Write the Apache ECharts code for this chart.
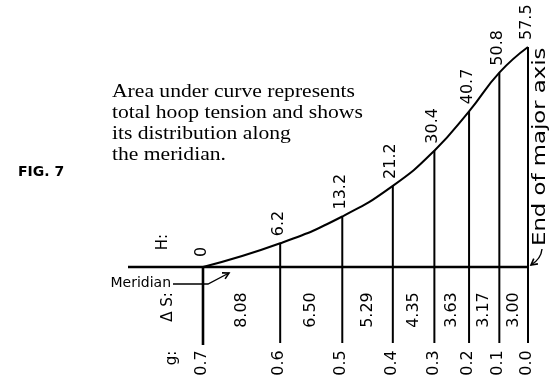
<!DOCTYPE html>
<html>
<head>
<meta charset="utf-8">
<script src="https://cdn.jsdelivr.net/npm/echarts@6/dist/echarts.min.js"></script>
<style>
  html, body { margin: 0; padding: 0; background: #fff; }
  #chart { width: 549px; height: 377px; }
</style>
</head>
<body>
<div id="chart"></div>
<script>
// Stations along the meridian, from g = 0.7 to the end of the major axis
const gLabels = ['0.7', '0.6', '0.5', '0.4', '0.3', '0.2', '0.1', '0.0'];
// Arc length between consecutive stations
const deltaS = [8.08, 6.50, 5.29, 4.35, 3.63, 3.17, 3.00];
// Hoop tension H at each station
const hoop = [0, 6.2, 13.2, 21.2, 30.4, 40.7, 50.8, 57.5];
const hoopLabels = ['0', '6.2', '13.2', '21.2', '30.4', '40.7', '50.8', '57.5'];

// Station positions along the meridian = running sum of the arc lengths
const sPos = [0];
deltaS.forEach((d, i) => sPos.push(+(sPos[i] + d).toFixed(2)));
const sEnd = sPos[sPos.length - 1];

// Axis extents (layout): baseline runs left of the first station,
// station lines drop below the baseline
const X_MIN = -7.85;
const Y_MIN = -19.86;

const NUM_FONT = '16px "DejaVu Sans"';
const BLACK = '#000';

const chart = echarts.init(document.getElementById('chart'), null, { renderer: 'canvas' });

const stationData = hoop.map((h, i) => [sPos[i], h, i]);
const intervalData = deltaS.map((d, i) => [(sPos[i] + sPos[i + 1]) / 2, 0, i]);

function rotText(x, y, text, align, font) {
  return {
    type: 'text', x: x, y: y, rotation: Math.PI / 2,
    style: {
      text: text, font: font || NUM_FONT, fill: BLACK,
      align: align, verticalAlign: 'middle',
      textAlign: align, textVerticalAlign: 'middle'
    }
  };
}

chart.setOption({
  animation: false,
  backgroundColor: '#fff',
  grid: { left: 128, right: 21, top: 47, bottom: 34 },
  xAxis: {
    type: 'value', min: X_MIN, max: sEnd,
    axisLine: { show: false }, axisTick: { show: false },
    axisLabel: { show: false }, splitLine: { show: false }
  },
  yAxis: {
    type: 'value', min: Y_MIN, max: hoop[hoop.length - 1],
    axisLine: { show: false }, axisTick: { show: false },
    axisLabel: { show: false }, splitLine: { show: false }
  },
  series: [
    {
      // meridian baseline
      type: 'line',
      data: [[X_MIN, 0], [sEnd, 0]],
      symbol: 'none',
      lineStyle: { color: BLACK, width: 2.6 },
      z: 3
    },
    {
      // hoop tension curve
      type: 'line',
      data: hoop.map((h, i) => [sPos[i], h]),
      smooth: 0.5,
      symbol: 'none',
      lineStyle: { color: BLACK, width: 2 },
      z: 4
    },
    {
      // station lines with H and g labels
      type: 'custom',
      data: stationData,
      clip: false,
      z: 2,
      renderItem: function (params, api) {
        const i = api.value(2);
        const top = api.coord([api.value(0), api.value(1)]);
        const bot = api.coord([api.value(0), Y_MIN]);
        const base = api.coord([api.value(0), 0]);
        const gap = i === 0 ? 10 : 7;
        return {
          type: 'group',
          children: [
            {
              type: 'line',
              shape: { x1: top[0], y1: top[1], x2: bot[0], y2: bot[1] + (i === 0 ? 2 : 0) },
              style: { stroke: BLACK, lineWidth: i === 0 ? 2.6 : 2 }
            },
            rotText(top[0] - 1.5, top[1] - gap, hoopLabels[i], 'left'),
            rotText(base[0] - 1, base[1] + 96, gLabels[i], 'center')
          ]
        };
      }
    },
    {
      // arc length between stations
      type: 'custom',
      data: intervalData,
      clip: false,
      z: 2,
      renderItem: function (params, api) {
        const i = api.value(2);
        const p = api.coord([api.value(0), 0]);
        return rotText(p[0], p[1] + 43, deltaS[i].toFixed(2), 'center');
      }
    }
  ]
});

// Annotations
function arrowHead(tx, ty, ang, len) {
  const a1 = ang + Math.PI - 0.5, a2 = ang + Math.PI + 0.5;
  return {
    type: 'polyline',
    shape: { points: [
      [tx + len * Math.cos(a1), ty + len * Math.sin(a1)],
      [tx, ty],
      [tx + len * Math.cos(a2), ty + len * Math.sin(a2)]
    ] },
    style: { stroke: BLACK, lineWidth: 1.6, fill: null }
  };
}

const endPt = chart.convertToPixel({ gridIndex: 0 }, [sEnd, 0]);
const startPt = chart.convertToPixel({ gridIndex: 0 }, [0, 0]);

const paraFont = '18px "Liberation Serif"';
const para = [
  'Area under curve represents',
  'total hoop tension and shows',
  'its distribution along',
  'the meridian.'
];

const graphics = [
  {
    type: 'text', x: 18, y: 172,
    style: { text: 'FIG. 7', font: 'bold 14px "DejaVu Sans"', fill: BLACK,
      align: 'left', verticalAlign: 'middle', textAlign: 'left', textVerticalAlign: 'middle' }
  },
  rotText(163, 242, 'H:', 'center', '15px "DejaVu Sans"'),
  rotText(168, 307, '\u0394 S:', 'center', '15px "DejaVu Sans"'),
  rotText(172, 358, 'g:', 'center', '15px "DejaVu Sans"'),
  {
    type: 'text', x: 171, y: 283,
    style: { text: 'Meridian', font: '14px "DejaVu Sans"', fill: BLACK,
      align: 'right', verticalAlign: 'middle', textAlign: 'right', textVerticalAlign: 'middle' }
  },
  {
    type: 'polyline',
    shape: { points: [[173, 284], [startPt[0] + 5, 284], [startPt[0] + 26, 273]] },
    style: { stroke: BLACK, lineWidth: 1.4, fill: null }
  },
  arrowHead(startPt[0] + 26, 273, Math.atan2(-11, 21), 7),
  {
    type: 'text', x: 541, y: 246, rotation: Math.PI / 2, scaleX: 1.34,
    style: { text: 'End of major axis', font: '17px "DejaVu Sans"', fill: BLACK,
      align: 'left', verticalAlign: 'middle', textAlign: 'left', textVerticalAlign: 'middle' }
  },
  {
    type: 'bezierCurve',
    shape: { x1: 542, y1: 249, cpx1: 541, cpy1: 259, x2: endPt[0] + 3, y2: endPt[1] - 2 },
    style: { stroke: BLACK, lineWidth: 1.4, fill: null }
  },
  arrowHead(endPt[0] + 3, endPt[1] - 2, Math.atan2(7, -9), 7)
];
para.forEach((line, k) => {
  graphics.push({
    type: 'text', x: 112, y: 92.5 + k * 21, scaleX: 1.2, originX: 0, originY: 0,
    style: { text: line, font: paraFont, fill: BLACK,
      align: 'left', verticalAlign: 'middle', textAlign: 'left', textVerticalAlign: 'middle' }
  });
});

chart.setOption({ graphic: { elements: graphics } });
</script>
</body>
</html>
